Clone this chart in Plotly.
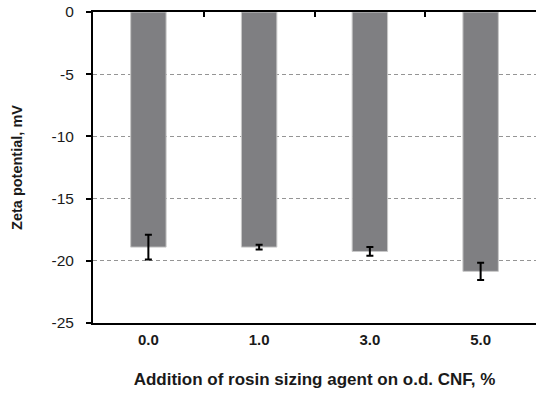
import plotly.graph_objects as go

categories = ["0.0", "1.0", "3.0", "5.0"]
zeta = [-18.9, -18.9, -19.25, -20.85]
zeta_err = [1.0, 0.2, 0.35, 0.7]
y_ticks = [0, -5, -10, -15, -20, -25]
y_tick_text = ["0", "-5", "-10", "-15", "-20", "-25"]

fig = go.Figure()
fig.add_trace(go.Bar(
    x=categories, y=zeta,
    marker=dict(color="#7f7f82", line=dict(color="#c8c8c8", width=1)),
    width=0.32,
    error_y=dict(type="data", array=zeta_err, visible=True, color="black",
                 thickness=2, width=3.5),
))
# invisible trace to activate the top mirror axis
fig.add_trace(go.Scatter(x=[0], y=[0], xaxis="x2", mode="markers",
                         marker=dict(opacity=0), showlegend=False, hoverinfo="skip"))

font = "Liberation Sans, Arial, sans-serif"
fig.update_layout(
    width=536, height=394,
    margin=dict(l=93, r=0, t=12, b=71),
    plot_bgcolor="white", paper_bgcolor="white",
    showlegend=False,
    font=dict(family=font, size=14, color="#1a1a1a"),
    xaxis=dict(
        type="category", range=[-0.5, 3.5],
        showline=True, linecolor="black", linewidth=2,
        ticks="", showgrid=False, ticklabelstandoff=2,
        tickfont=dict(family=font, size=15, color="#1a1a1a", weight="bold"),
        title=dict(text="<b>Addition of rosin sizing agent on o.d. CNF, %</b>",
                   font=dict(family=font, size=17, color="#1a1a1a"), standoff=26),
    ),
    xaxis2=dict(
        overlaying="x", side="top", range=[-0.5, 3.5],
        tickvals=[0.5, 1.5, 2.5], ticks="inside", ticklen=5, tickwidth=2,
        tickcolor="black", showticklabels=False, showgrid=False,
        showline=True, linecolor="black", linewidth=2, zeroline=False,
    ),
    yaxis=dict(
        range=[-25, 0], tickvals=y_ticks, ticktext=y_tick_text,
        showline=True, linecolor="black", linewidth=2,
        ticks="outside", ticklen=5, tickwidth=1.5, tickcolor="black",
        ticklabelstandoff=9,
        showgrid=True, gridcolor="#959595", griddash="4px,3px", gridwidth=1,
        zeroline=False,
        tickfont=dict(family=font, size=15.5, color="#1a1a1a"),
        title=dict(text="<b>Zeta potential, mV</b>",
                   font=dict(family=font, size=14.5, color="#1a1a1a"), standoff=25),
    ),
)
fig.write_html("out.html")
